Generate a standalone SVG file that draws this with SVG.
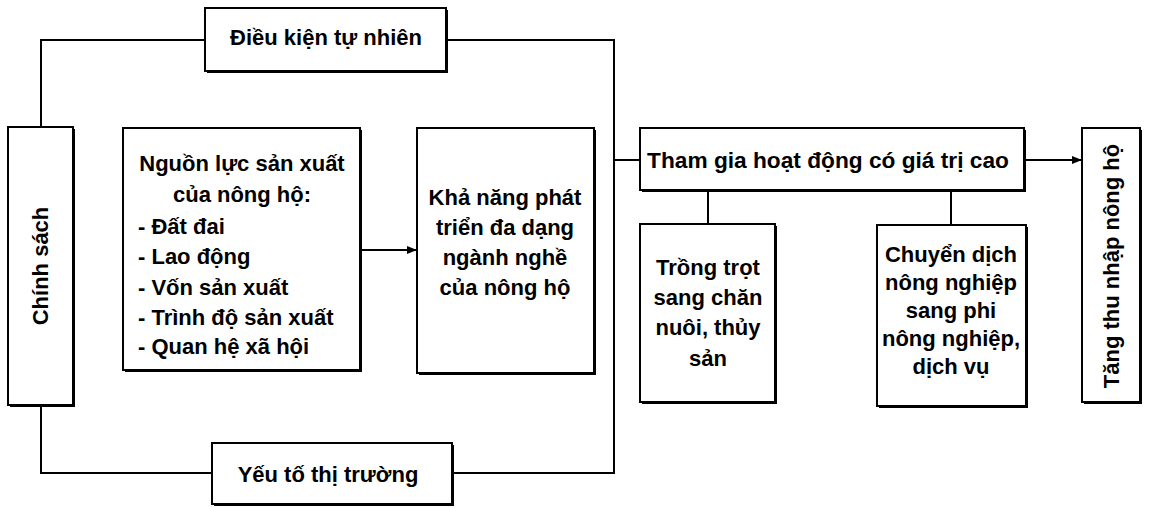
<svg xmlns="http://www.w3.org/2000/svg" width="1151" height="508" viewBox="0 0 1151 508">
<style>
.box{fill:#fff;stroke:#000;stroke-width:2}
.sh{fill:#000}
.t{font-family:"Liberation Sans",Arial,sans-serif;font-weight:bold;font-size:22px;fill:#000;text-anchor:middle}
.l{text-anchor:start}
.c{fill:none;stroke:#000;stroke-width:2}
</style>
<defs>
<marker id="ah" markerWidth="10" markerHeight="10" refX="9" refY="5" orient="auto" markerUnits="userSpaceOnUse">
<path d="M0,1 L10,5 L0,9 Z" fill="#000"/>
</marker>
</defs>
<rect width="1151" height="508" fill="#fff"/>
<g id="connectors">
<polyline class="c" points="205,40 41,40 41,127"/>
<polyline class="c" points="446,40 614,40 614,473 452,473"/>
<polyline class="c" points="41,405 41,473 212,473"/>
<line class="c" x1="614" y1="160" x2="640" y2="160"/>
<line class="c" x1="361" y1="250" x2="416" y2="250" marker-end="url(#ah)"/>
<line class="c" x1="1024" y1="160" x2="1081" y2="160" marker-end="url(#ah)"/>
<line class="c" x1="708" y1="190" x2="708" y2="224"/>
<line class="c" x1="951" y1="190" x2="951" y2="225"/>
</g>
<g id="dieu-kien">
<rect class="sh" x="207" y="10" width="241" height="63"/>
<rect class="box" x="205" y="8" width="241" height="63"/>
<text class="t" x="326" y="45">Điều kiện tự nhiên</text>
</g>
<g id="chinh-sach">
<rect class="sh" x="10" y="129" width="65" height="278"/>
<rect class="box" x="8" y="127" width="65" height="278"/>
<text class="t" transform="translate(48,266) rotate(-90)">Chính sách</text>
</g>
<g id="nguon-luc">
<rect class="sh" x="125" y="130" width="237" height="242"/>
<rect class="box" x="123" y="128" width="237" height="242"/>
<text class="t" x="242" y="171">Nguồn lực sản xuất</text>
<text class="t" x="242" y="202">của nông hộ:</text>
<text class="t l" x="138" y="234">- Đất đai</text>
<text class="t l" x="138" y="264">- Lao động</text>
<text class="t l" x="138" y="295">- Vốn sản xuất</text>
<text class="t l" x="138" y="325">- Trình độ sản xuất</text>
<text class="t l" x="138" y="354">- Quan hệ xã hội</text>
</g>
<g id="kha-nang">
<rect class="sh" x="419" y="130" width="177" height="245"/>
<rect class="box" x="417" y="128" width="177" height="245"/>
<text class="t" x="505" y="205">Khả năng phát</text>
<text class="t" x="505" y="235">triển đa dạng</text>
<text class="t" x="505" y="265">ngành nghề</text>
<text class="t" x="505" y="295">của nông hộ</text>
</g>
<g id="yeu-to">
<rect class="sh" x="214" y="445" width="240" height="61"/>
<rect class="box" x="212" y="443" width="240" height="61"/>
<text class="t" x="328" y="482">Yếu tố thị trường</text>
</g>
<g id="tham-gia">
<rect class="sh" x="642" y="130" width="384" height="62"/>
<rect class="box" x="640" y="128" width="384" height="62"/>
<text class="t" x="828" y="168" style="font-size:22.7px">Tham gia hoạt động có giá trị cao</text>
</g>
<g id="trong-trot">
<rect class="sh" x="642" y="226" width="135" height="178"/>
<rect class="box" x="640" y="224" width="135" height="178"/>
<text class="t" x="708" y="275">Trồng trọt</text>
<text class="t" x="708" y="305">sang chăn</text>
<text class="t" x="708" y="335">nuôi, thủy</text>
<text class="t" x="708" y="366">sản</text>
</g>
<g id="chuyen-dich">
<rect class="sh" x="879" y="227" width="149" height="181"/>
<rect class="box" x="877" y="225" width="149" height="181"/>
<text class="t" x="951" y="262">Chuyển dịch</text>
<text class="t" x="951" y="290">nông nghiệp</text>
<text class="t" x="951" y="318">sang phi</text>
<text class="t" x="951" y="346">nông nghiệp,</text>
<text class="t" x="951" y="374">dịch vụ</text>
</g>
<g id="tang-thu-nhap">
<rect class="sh" x="1084" y="130" width="58" height="274"/>
<rect class="box" x="1082" y="128" width="58" height="274"/>
<text class="t" transform="translate(1119,266) rotate(-90)">Tăng thu nhập nông hộ</text>
</g>
</svg>
